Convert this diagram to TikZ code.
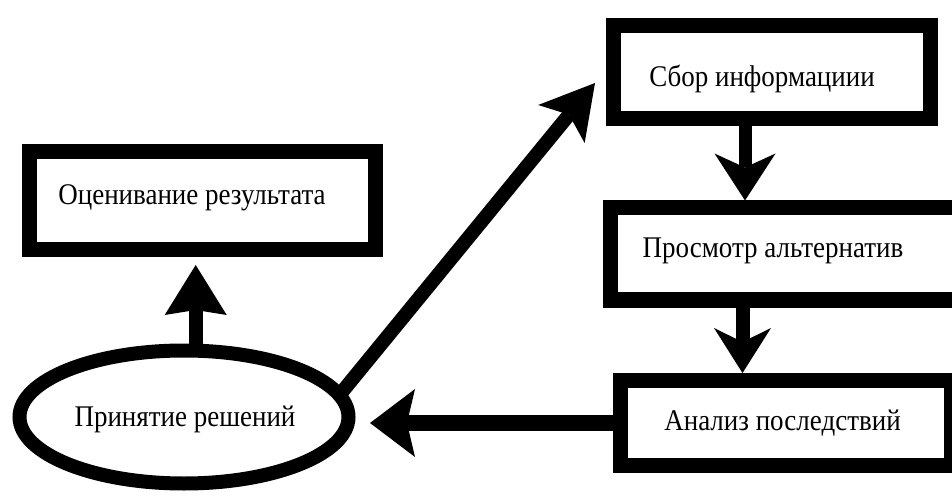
\documentclass[tikz,border=0pt]{standalone}
\usepackage{fontspec}
\setmainfont{Liberation Serif}
\usetikzlibrary{arrows.meta,shapes.geometric,calc}
\newcommand{\narrowtext}[1]{\scalebox{0.9}[1]{#1}}
\begin{document}
\begin{tikzpicture}[x=1pt,y=-1pt,
  box/.style={draw=black, line width=15pt, rectangle, inner sep=0pt, outer sep=0pt, fill=white},
  oval/.style={draw=black, ellipse, line width=14pt, inner sep=0pt, outer sep=0pt},
  lbl/.style={font=\fontsize{30}{34}\selectfont, inner sep=0pt, anchor=base, text=black},
  conn/.style={draw=black, line width=14pt}
]
\clip (0,0) rectangle (952,502);
\fill[white] (0,0) rectangle (952,502);

% boxes and ellipse
\node[box, minimum width=346pt, minimum height=98pt] (A) at (202,201) {};
\node[lbl] (At) at (192,205) {\narrowtext{Оценивание результата}};

\node[box, minimum width=317pt, minimum height=93pt] (B) at (772,72) {};
\node[lbl] (Bt) at (762,87) {\narrowtext{Сбор информациии}};

\node[box, minimum width=350pt, minimum height=92pt] (C) at (785,254) {};
\node[lbl] (Ct) at (773,258) {\narrowtext{Просмотр альтернатив}};

\node[box, minimum width=331pt, minimum height=85pt] (D) at (785.5,423) {};
\node[lbl] (Dt) at (782.5,430) {\narrowtext{Анализ последствий}};

\node[oval, minimum width=329pt, minimum height=133pt] (E) at (184,417) {};
\node[lbl] (Et) at (185,426) {\narrowtext{Принятие решений}};

% connectors
\coordinate (dtip) at (595,83);
\coordinate (x3) at (745,0);
\coordinate (x4) at (742.5,0);

\draw[conn, -{Stealth[length=50pt, width=62pt, inset=5pt, line width=0pt]}, shorten >=15pt]
  (E.80) -- (E.80 |- A.south);
\draw[conn, -{Stealth[length=53pt, width=60pt, inset=12pt, line width=0pt]}]
  (E.8) -- (dtip);
\draw[conn, line width=13pt, -{Stealth[length=47pt, width=61pt, inset=14pt, line width=0pt]}, shorten >=7.5pt]
  (x3 |- B.south) -- (x3 |- C.north);
\draw[conn, -{Stealth[length=45pt, width=57pt, inset=14pt, line width=0pt]}, shorten >=7.5pt]
  (x4 |- C.south) -- (x4 |- D.north);
\draw[conn, line width=16pt, -{Stealth[length=45pt, width=68pt, inset=8pt, line width=0pt]}, shorten >=21.5pt]
  (D.west) -- (D.west -| E.east);
\end{tikzpicture}
\end{document}
